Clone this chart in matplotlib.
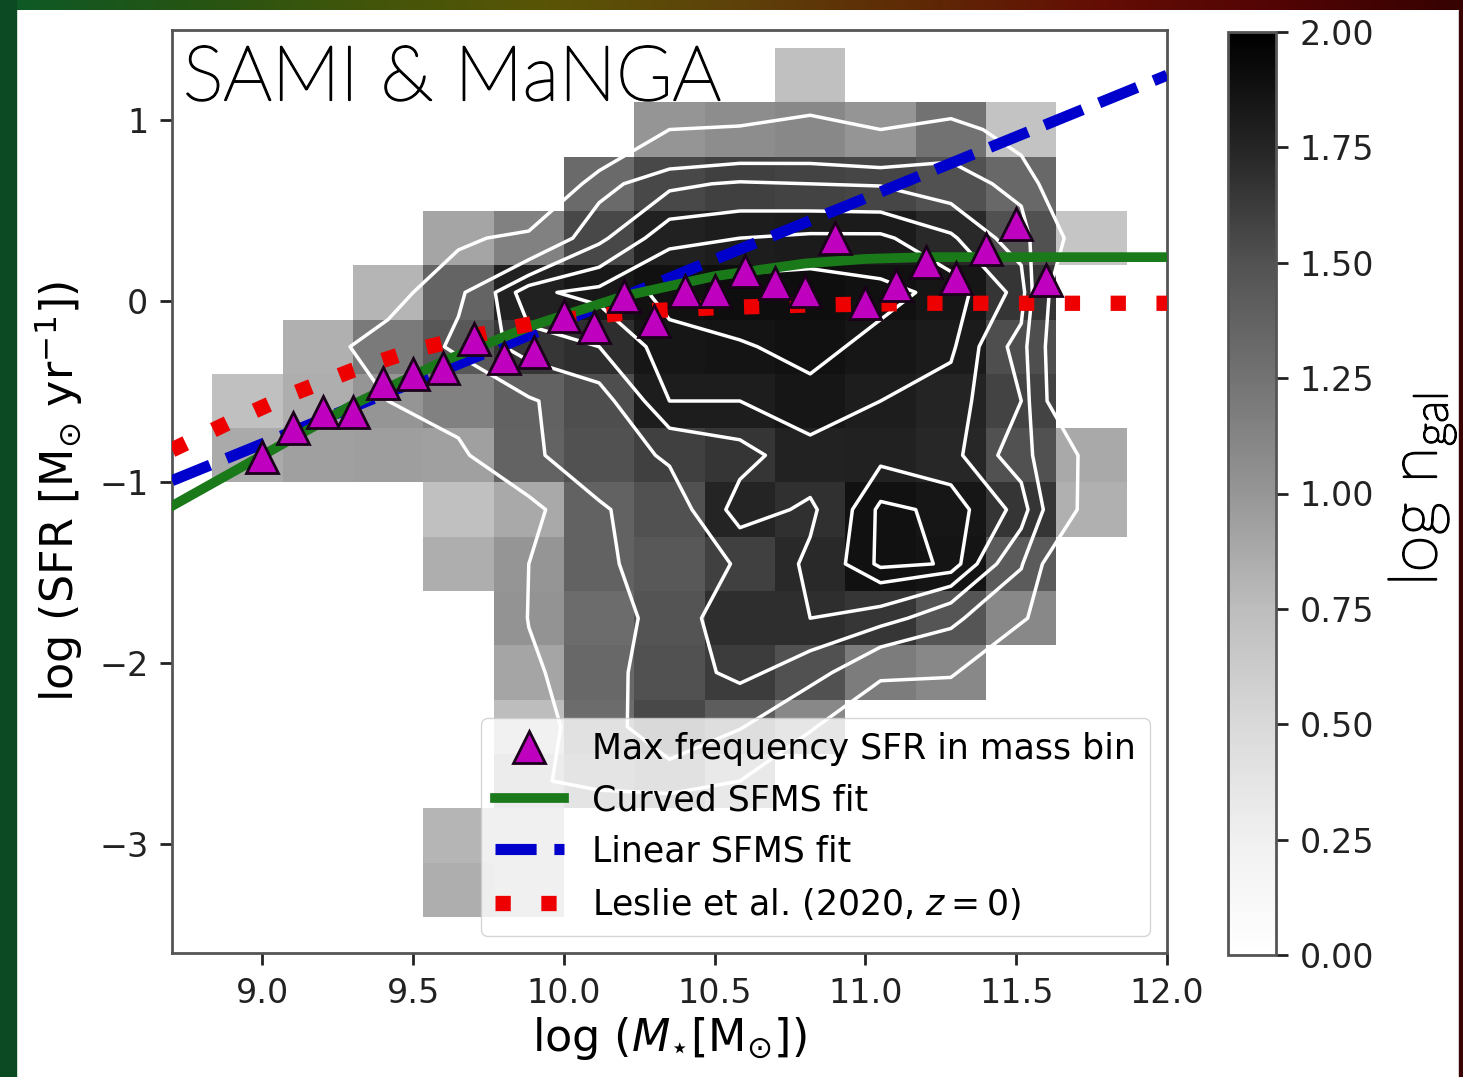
"""
SFR - stellar mass plane for SAMI & MaNGA galaxies:
2D histogram of log n_gal with density contours, peak-SFR points and SFMS fits.
"""

import numpy as np
import matplotlib
matplotlib.use('Agg')
import matplotlib.pyplot as plt
import matplotlib.patheffects as pe
from matplotlib.patches import Rectangle
from matplotlib.colors import LinearSegmentedColormap

plt.rcParams['mathtext.rm'] = 'Lato:light'

nan = np.nan

# histogram bins (log M*, log SFR)
mass_edges = np.linspace(8.6, 12.1, 16)
sfr_edges = np.linspace(-3.4, 1.4, 17)

# log n_gal per cell, top SFR row (1.1 .. 1.4) first, bottom row (-3.4 .. -3.1) last
log_ngal_rows = [
    [nan, nan, nan, nan, nan, nan, nan, nan, nan, 0.72, nan, nan, nan, nan, nan],
    [nan, nan, nan, nan, nan, nan, nan, 1.00, 1.07, 1.10, 1.00, 1.25, 0.70, nan, nan],
    [nan, nan, nan, nan, nan, nan, 1.32, 1.55, 1.60, 1.58, 1.57, 1.50, 1.33, nan, nan],
    [nan, nan, nan, nan, 0.90, 1.15, 1.55, 1.78, 1.80, 1.82, 1.82, 1.72, 1.50, 0.68, nan],
    [nan, nan, nan, 0.80, 1.36, 1.78, 1.83, 1.88, 1.90, 1.90, 1.88, 1.85, 1.66, nan, nan],
    [nan, nan, 0.83, 1.20, 1.45, 1.65, 1.70, 1.85, 1.86, 1.88, 1.85, 1.82, 1.52, nan, nan],
    [nan, 0.72, 0.85, 1.00, 1.15, 1.38, 1.52, 1.80, 1.80, 1.85, 1.80, 1.75, 1.58, nan, nan],
    [nan, 0.87, 0.93, 0.95, 0.93, 1.37, 1.50, 1.60, 1.66, 1.77, 1.78, 1.74, 1.50, 0.88, nan],
    [nan, nan, nan, nan, 0.72, 0.88, 1.38, 1.50, 1.75, 1.68, 1.88, 1.85, 1.66, 0.83, nan],
    [nan, nan, nan, nan, 0.85, 1.00, 1.38, 1.45, 1.60, 1.72, 1.88, 1.86, 1.43, nan, nan],
    [nan, nan, nan, nan, nan, 1.02, 1.30, 1.48, 1.70, 1.70, 1.65, 1.47, 1.10, nan, nan],
    [nan, nan, nan, nan, nan, 0.90, 1.33, 1.50, 1.62, 1.50, 1.18, 1.10, nan, nan, nan],
    [nan, nan, nan, nan, nan, 0.75, 1.30, 1.55, 1.42, 1.10, nan, nan, nan, nan, nan],
    [nan, nan, nan, nan, nan, 0.90, 1.20, 1.30, 1.00, nan, nan, nan, nan, nan, nan],
    [nan, nan, nan, nan, 0.80, 0.80, nan, nan, nan, nan, nan, nan, nan, nan, nan],
    [nan, nan, nan, nan, 0.85, 0.80, nan, nan, nan, nan, nan, nan, nan, nan, nan],
]
contour_levels = [1.0, 1.4, 1.58, 1.7, 1.8, 1.865]

# most frequent SFR in each 0.1 dex mass bin
peak_mass = [9.0, 9.1, 9.2, 9.3, 9.4, 9.5, 9.6, 9.7, 9.8, 9.9,
             10.0, 10.1, 10.2, 10.3, 10.4, 10.5, 10.6, 10.7, 10.8, 10.9,
             11.0, 11.1, 11.2, 11.3, 11.4, 11.5, 11.6]
peak_sfr = [-0.86, -0.70, -0.61, -0.61, -0.45, -0.40, -0.37, -0.21, -0.31, -0.28,
            -0.08, -0.14, 0.03, -0.11, 0.06, 0.06, 0.17, 0.10, 0.06, 0.35,
            -0.01, 0.09, 0.22, 0.13, 0.29, 0.43, 0.12]

# curved SFMS fit
curved_mass = [8.7, 9.0, 9.3, 9.6, 9.9, 10.2, 10.5, 10.8, 11.0, 11.2, 12.0]
curved_sfr = [-1.13, -0.85, -0.57, -0.33, -0.13, 0.03, 0.14, 0.21, 0.235, 0.245, 0.245]

# linear SFMS fit
linear_mass = [8.7, 12.0]
linear_sfr = [-0.99, 1.25]

# Leslie et al. (2020), z = 0
leslie_mass = [8.7, 8.9, 9.1, 9.3, 9.5, 9.7, 9.9, 10.1, 10.3, 10.5, 10.8, 11.2, 12.0]
leslie_sfr = [-0.82, -0.66, -0.51, -0.38, -0.27, -0.19, -0.12, -0.08, -0.05, -0.035,
              -0.02, -0.01, -0.01]

cbar_ticks = [0.0, 0.25, 0.5, 0.75, 1.0, 1.25, 1.5, 1.75, 2.0]

W, H = 1463, 1077
fig = plt.figure(figsize=(W / 100, H / 100), dpi=100, facecolor='white')

# slide frame around the figure
strip_colors = ['#0c5a28', '#245414', '#42560a', '#5a5406', '#5e420a',
                '#5e2a06', '#640e04', '#520404', '#360202']
strip = fig.add_axes([0, 1 - 10 / H, 1, 10 / H], zorder=-5)
strip.imshow(np.linspace(0, 1, 256)[None, :], aspect='auto',
             cmap=LinearSegmentedColormap.from_list('frame', strip_colors))
strip.set_axis_off()
fig.patches.append(Rectangle((0, 0), 16 / W, 1, transform=fig.transFigure,
                             color='#0b4a22', zorder=-4))
fig.patches.append(Rectangle((1 - 4 / W, 0), 4 / W, 1 - 10 / H,
                             transform=fig.transFigure, color='#3a0404', zorder=-4))

ax = fig.add_axes([172 / W, (H - 953) / H, (1167 - 172) / W, (953 - 30) / H])
cax = fig.add_axes([1228 / W, (H - 955) / H, 48 / W, (955 - 32) / H])

counts = np.array(log_ngal_rows)[::-1]
mesh = ax.pcolormesh(mass_edges, sfr_edges, np.ma.masked_invalid(counts),
                     cmap='Greys', vmin=0, vmax=2, zorder=1)

mass_mid = 0.5 * (mass_edges[1:] + mass_edges[:-1])
sfr_mid = 0.5 * (sfr_edges[1:] + sfr_edges[:-1])
ax.contour(mass_mid, sfr_mid, np.nan_to_num(counts), levels=contour_levels,
           colors='white', linewidths=2.5, zorder=2)

l_lin, = ax.plot(linear_mass, linear_sfr, color='#0000cc', lw=8, ls='--', zorder=3)
l_cur, = ax.plot(curved_mass, curved_sfr, color='#1a7a1a', lw=7, zorder=3)
l_les, = ax.plot(leslie_mass, leslie_sfr, color='#ee0000', lw=11, ls=(0, (1, 2)), zorder=4)
l_pk, = ax.plot(peak_mass, peak_sfr, ls='none', marker='^', ms=23, mfc='m',
                mec='#1a001a', mew=2, zorder=5)

ax.set_xlim(8.7, 12.0)
ax.set_ylim(-3.6, 1.5)
ax.set_xticks([9.0, 9.5, 10.0, 10.5, 11.0, 11.5, 12.0])
ax.set_xticklabels(['9.0', '9.5', '10.0', '10.5', '11.0', '11.5', '12.0'])
ax.set_yticks([-3, -2, -1, 0, 1])
ax.tick_params(labelsize=24, length=8.5, width=2, pad=8.5, colors='#222222')
for sp in ax.spines.values():
    sp.set_linewidth(2)
    sp.set_color('#555555')

ax.set_xlabel(r'log ($M_{\star}$[M$_{\odot}$])', fontsize=32, labelpad=4)
ax.set_ylabel(r'log (SFR [M$_{\odot}$ yr$^{-1}$])', fontsize=32, labelpad=10)

# slide captions in a light sans face, stroked a little for weight
thicken = [pe.withStroke(linewidth=1.4, foreground='black')]
ax.text(0.011, 0.924, 'SAMI & MaNGA', transform=ax.transAxes, fontsize=55,
        family='Lato', weight='light', va='baseline', zorder=6,
        path_effects=thicken)

leg = ax.legend([l_pk, l_cur, l_lin, l_les],
                ['Max frequency SFR in mass bin', 'Curved SFMS fit',
                 'Linear SFMS fit', r'Leslie et al. (2020, $z=0$)'],
                loc='lower right', fontsize=25, handlelength=2.0)
leg.set_zorder(7)

cbar = fig.colorbar(mesh, cax=cax, ticks=cbar_ticks, format='%.2f')
cbar.outline.set_linewidth(2)
cbar.outline.set_edgecolor('#555555')
cax.tick_params(labelsize=24, length=8.5, width=2, pad=8.5, colors='#222222')

fig.text(1422 / W, 1 - 490 / H, r'log n$_{\mathrm{gal}}$', rotation=90,
         ha='center', va='center', fontsize=48, family='Lato', weight='light',
         color='black', math_fontfamily='custom', path_effects=thicken)

fig.savefig('out.png', dpi=100)
